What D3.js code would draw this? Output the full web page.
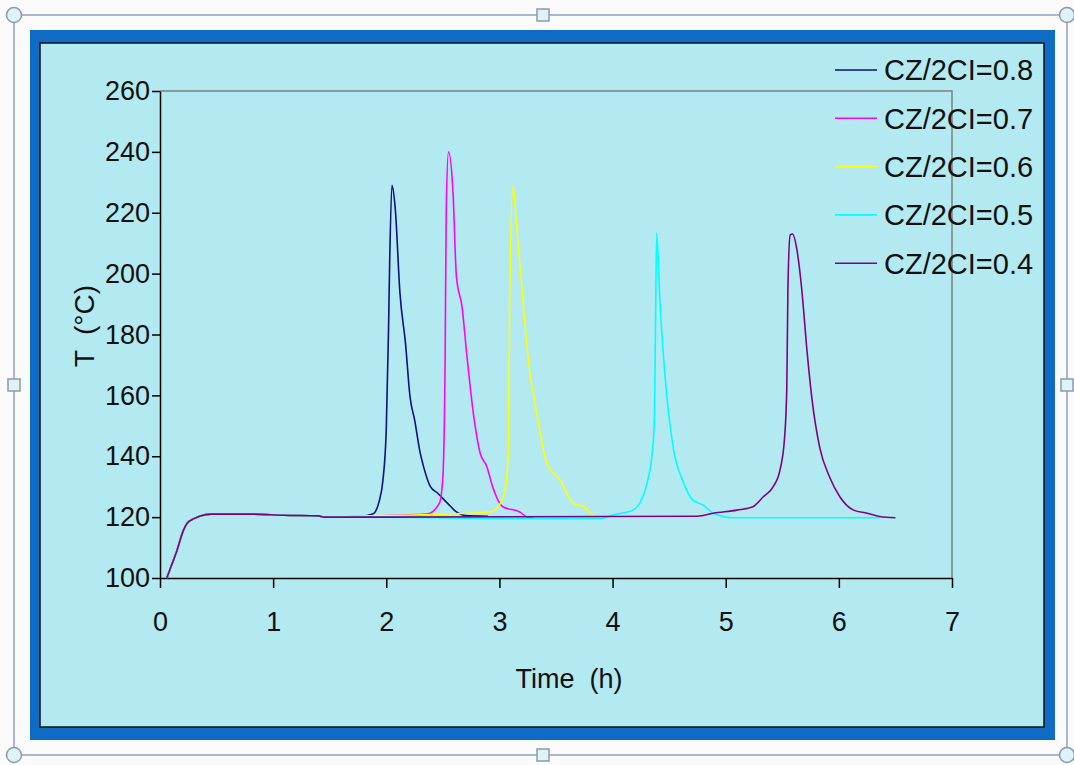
<!DOCTYPE html>
<html>
<head>
<meta charset="utf-8">
<script src="https://cdn.jsdelivr.net/npm/d3@7"></script>
<style>
  body { margin: 0; background: #fafafa; }
  svg { display: block; font-family: "Liberation Sans", Arial, sans-serif; }
</style>
</head>
<body>
<svg></svg>
<script>
// series data: [time (h), T (°C)]
let start = [[0.06, 100], [0.1, 104], [0.15, 109], [0.2, 115], [0.24, 118], [0.3, 119.5], [0.35, 120.3], [0.45, 121], [0.8, 121], [1.1, 120.6], [1.4, 120.4], [1.45, 120]];

let cz08 = start.concat([[1.77, 120.3], [1.88, 121], [1.94, 125.6], [1.97, 132], [2.0, 149], [2.02, 182], [2.03, 204], [2.05, 229], [2.08, 221], [2.12, 194], [2.17, 177], [2.21, 159.5], [2.25, 152], [2.3, 141], [2.33, 136.5], [2.39, 130], [2.45, 128], [2.54, 124.6], [2.62, 121.7], [2.7, 120.5], [2.9, 120.3]]);
let cz07 = start.concat([[1.9, 120.4], [2.36, 121], [2.47, 124.6], [2.5, 133], [2.52, 171.6], [2.53, 221], [2.55, 240], [2.59, 226.5], [2.62, 199], [2.67, 189], [2.71, 174], [2.77, 154], [2.83, 141], [2.89, 136.5], [2.94, 130], [3.03, 123.4], [3.18, 121.7], [3.25, 120], [3.3, 120]]);
let cz06 = start.concat([[1.6, 120.2], [2.3, 120.8], [2.92, 121.7], [2.98, 123], [3.05, 129], [3.08, 143], [3.09, 189], [3.12, 229], [3.15, 216.6], [3.2, 194.6], [3.27, 167], [3.31, 158.5], [3.42, 137.8], [3.54, 132], [3.65, 124.6], [3.74, 123.4], [3.84, 120]]);
let cz05 = start.concat([[2.0, 120], [2.9, 119.6], [3.9, 119.6], [4.0, 120.7], [4.18, 122.3], [4.24, 124.6], [4.31, 132], [4.35, 141], [4.37, 152], [4.38, 185], [4.39, 213.3], [4.42, 190], [4.46, 168], [4.54, 142], [4.62, 132], [4.71, 125.6], [4.8, 124], [4.89, 121.3], [5.07, 119.8], [6.36, 119.8]]);
let cz04 = start.concat([[2.0, 120], [4.75, 120.3], [4.89, 121.3], [5.1, 122.3], [5.24, 123.4], [5.33, 126.6], [5.42, 130], [5.48, 135.5], [5.52, 146], [5.54, 162.7], [5.55, 195.6], [5.57, 212.7], [5.59, 213], [5.63, 207.7], [5.67, 195.6], [5.72, 174], [5.76, 159.5], [5.83, 143], [5.92, 133], [6.01, 126.6], [6.13, 122.3], [6.25, 121.3], [6.36, 120.2], [6.5, 119.8]]);

let names = ['CZ/2CI=0.8', 'CZ/2CI=0.7', 'CZ/2CI=0.6', 'CZ/2CI=0.5', 'CZ/2CI=0.4'];
let colors = ['#10107e', '#ff00ff', '#ffff00', '#00ffff', '#800080'];
let seriesData = [cz08, cz07, cz06, cz05, cz04];
let xTicks = [0, 1, 2, 3, 4, 5, 6, 7];
let yTicks = [100, 120, 140, 160, 180, 200, 220, 240, 260];

let width = 1074;
let height = 765;
let svg = d3.select('svg').attr('width', width).attr('height', height);

// selection frame with handles
svg.append('rect')
  .attr('x', 14).attr('y', 15).attr('width', 1053).attr('height', 740)
  .attr('fill', 'none').attr('stroke', '#8ea2c2').attr('stroke-width', 1.5);

// blue frame and chart area
svg.append('rect')
  .attr('x', 30).attr('y', 30).attr('width', 1025).attr('height', 710)
  .attr('fill', '#0e6cc4');
svg.append('rect')
  .attr('x', 40).attr('y', 43).attr('width', 1004).attr('height', 684)
  .attr('fill', '#b3e9f1').attr('stroke', '#111').attr('stroke-width', 1.5);

let handles = [[14, 15], [1067, 15], [14, 755], [1067, 755]];
svg.selectAll('circle.handle').data(handles).enter().append('circle')
  .attr('cx', (d) => d[0]).attr('cy', (d) => d[1]).attr('r', 7.5)
  .attr('fill', '#dff2f5').attr('stroke', '#8a9aae').attr('stroke-width', 1.5);
let squares = [[543, 15], [543, 755], [14, 385], [1067, 385]];
svg.selectAll('rect.handle').data(squares).enter().append('rect')
  .attr('x', (d) => d[0] - 6).attr('y', (d) => d[1] - 6)
  .attr('width', 12).attr('height', 12)
  .attr('fill', '#dff2f5').attr('stroke', '#8a9aae').attr('stroke-width', 1.5);

let plotLeft = 160, plotRight = 952, plotTop = 91, plotBottom = 578;
let x = d3.scaleLinear().domain([0, 7]).range([plotLeft, plotRight]);
let y = d3.scaleLinear().domain([100, 260]).range([plotBottom, plotTop]);

// gray top and right frame
svg.append('path')
  .attr('d', `M${plotLeft},${plotTop}H${plotRight}V${plotBottom}`)
  .attr('fill', 'none').attr('stroke', '#808080').attr('stroke-width', 1.5);

let xAxis = svg.append('g')
  .attr('transform', `translate(0,${plotBottom})`)
  .call(d3.axisBottom(x).tickValues(xTicks).tickFormat(d3.format('d'))
    .tickSize(10).tickPadding(24).tickSizeOuter(0));
let yAxis = svg.append('g')
  .attr('transform', `translate(${plotLeft},0)`)
  .call(d3.axisLeft(y).tickValues(yTicks).tickSize(8).tickPadding(2).tickSizeOuter(0));

[xAxis, yAxis].forEach((g) => {
  g.selectAll('path, line').attr('stroke', '#000').attr('stroke-width', 1.5);
  g.selectAll('text').attr('fill', '#111').style('font-size', '27px')
    .style('font-family', '"Liberation Sans", Arial, sans-serif');
});

let line = d3.line().curve(d3.curveMonotoneX).x((d) => x(d[0])).y((d) => y(d[1]));
svg.append('g').selectAll('path').data(seriesData).enter().append('path')
  .attr('d', line)
  .attr('fill', 'none')
  .attr('stroke', (d, i) => colors[i])
  .attr('stroke-width', 1.6)
  .attr('stroke-linejoin', 'round');

// legend
let legend = svg.append('g').selectAll('g').data(names).enter().append('g')
  .attr('transform', (d, i) => `translate(835,${70 + i * 48.3})`);
legend.append('line')
  .attr('x1', 0).attr('x2', 42)
  .attr('stroke', (d, i) => colors[i]).attr('stroke-width', 1.6);
legend.append('text')
  .attr('x', 49).attr('dy', '0.36em')
  .attr('fill', '#111').style('font-size', '29px')
  .text((d) => d);

// axis titles
svg.append('text')
  .attr('x', 569).attr('y', 688)
  .attr('text-anchor', 'middle').attr('fill', '#111')
  .style('font-size', '27px').style('white-space', 'pre')
  .text('Time  (h)');
svg.append('text')
  .attr('transform', 'translate(94,326) rotate(-90)')
  .attr('text-anchor', 'middle').attr('fill', '#111')
  .style('font-size', '28px').style('white-space', 'pre')
  .text('T  (°C)');
</script>
</body>
</html>
